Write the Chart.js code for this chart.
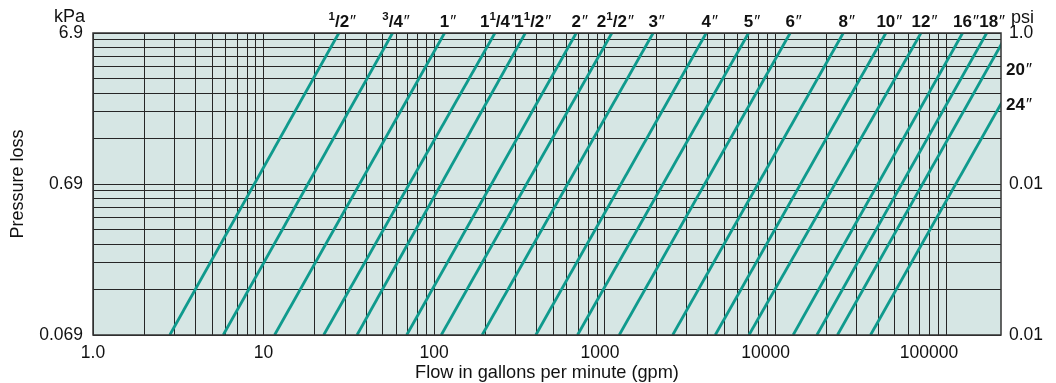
<!DOCTYPE html>
<html><head><meta charset="utf-8">
<script src="https://cdn.jsdelivr.net/npm/chart.js@4.4.1/dist/chart.umd.min.js"></script>
<style>html,body{margin:0;padding:0;background:#fff}canvas{display:block}</style>
</head><body>
<canvas id="c" width="1056" height="383"></canvas>
<script>
// ---- data ----
const pipeSizes = ['1/2','3/4','1','1 1/4','1 1/2','2','2 1/2','3','4','5','6','8','10','12','16','18','20','24'];
// flow (gpm) where each pipe line meets 1.0 psi (top) and 0.01 psi (bottom)
const flowAt1psi   = [27.6, 57, 115, 227, 342, 680, 1100, 1920, 3930, 6960, 12200, 25000, 44400, 71300, 125000, 173000, 230000, 360000];
const flowAt001psi = [2.82, 5.8, 11.6, 22.5, 35.3, 69, 110, 191, 394, 692, 1215, 2500, 4440, 7000, 12700, 17500, 23100, 36100];
const xTickValues = [1, 10, 100, 1000, 10000, 100000];
const xTickLabels = ['1.0', '10', '100', '1000', '10000', '100000'];
const yTickValues = [1, 0.1, 0.01];           // psi
const kPaTickLabels = ['6.9', '0.69', '0.069'];
const psiTickLabels = ['1.0', '0.01', '0.01'];

// ---- style ----
const FONT = '"Liberation Sans", Arial, Helvetica, sans-serif';
const TEAL = '#0f9a8d';
const BG = '#d6e6e4';
const GRID = '#262626';
const TXT = '#111';

const X_MIN = 1, X_MAX = 210000, Y_MIN = 0.01, Y_MAX = 1;

const gridX = [];
for (let k = 0; k < 5; k++) for (let m = 1; m <= 9; m++) gridX.push(m * Math.pow(10, k));
gridX.push(100000);
const gridY = [];
for (let m = 1; m <= 9; m++) gridY.push(m / 100);
for (let m = 1; m <= 9; m++) gridY.push(m / 10);
gridY.push(1);

function findIdx(arr, v) { return arr.findIndex(a => Math.abs(a - v) / a < 1e-6); }
// small leftward shifts of the large x labels, as in the original
const xLabelPad = ['', '', '', '  ', '    ', '       '];

const datasets = pipeSizes.map((s, i) => ({
  label: s,
  data: [{x: flowAt001psi[i], y: 0.01}, {x: flowAt1psi[i], y: 1}],
  showLine: true,
  borderColor: TEAL,
  backgroundColor: TEAL,
  borderWidth: 2.8,
  pointRadius: 0,
  fill: false,
  clip: 0
}));

function parts(name) {
  const p = [];
  name.split(' ').forEach(tok => {
    if (tok.includes('/')) { const [n, d] = tok.split('/'); p.push({t: n, sup: true}); p.push({t: '/' + d}); }
    else p.push({t: tok});
  });
  p.push({t: '″', mark: true});
  return p;
}
function fontFor(pt) {
  if (pt.sup) return 'bold 11.5px ' + FONT;
  if (pt.mark) return '17px ' + FONT;
  return 'bold 17px ' + FONT;
}
function drawSize(ctx, name, x, baseline, align) {
  const p = parts(name);
  let w = 0;
  p.forEach(pt => { ctx.font = fontFor(pt); pt.w = ctx.measureText(pt.t).width; w += pt.w + (pt.mark ? 1 : 0); });
  let cx = align === 'left' ? x : x - w / 2;
  p.forEach(pt => {
    ctx.font = fontFor(pt);
    let dy = 0;
    if (pt.sup) dy = -7;
    if (pt.mark) { cx += 1; dy = 0; }
    ctx.fillText(pt.t, cx, baseline + dy);
    cx += pt.w;
  });
}

const labelNudge = {'1 1/2': 4, '18': 2};
const rightLabelPsi = {'20': 0.577, '24': 0.339};

const deco = {
  id: 'deco',
  beforeDraw(chart) {
    const {ctx, chartArea: a} = chart;
    ctx.save();
    ctx.fillStyle = BG;
    ctx.fillRect(a.left, a.top, a.right - a.left, a.bottom - a.top);
    ctx.restore();
  },
  afterDraw(chart) {
    const {ctx, chartArea: a} = chart;
    const xs = chart.scales.x, ys = chart.scales.y;
    ctx.save();
    ctx.strokeStyle = '#333';
    ctx.lineWidth = 1.5;
    ctx.strokeRect(a.left, a.top, a.right - a.left, a.bottom - a.top);
    ctx.fillStyle = TXT;
    ctx.textBaseline = 'alphabetic';
    ctx.textAlign = 'left';
    pipeSizes.forEach((s, i) => {
      const px = xs.getPixelForValue(flowAt1psi[i]);
      if (px <= a.right) {
        drawSize(ctx, s, px + 3.5 + (labelNudge[s] || 0), a.top - 6, 'center');
      } else if (rightLabelPsi[s]) {
        drawSize(ctx, s, a.right + 5, ys.getPixelForValue(rightLabelPsi[s]) + 6, 'left');
      }
    });
    ctx.font = '18px ' + FONT;
    ctx.fillStyle = TXT;
    ctx.textAlign = 'right';
    ctx.fillText('kPa', a.left - 8, a.top - 11);
    ctx.textAlign = 'left';
    ctx.fillText('psi', a.right + 10, a.top - 10);
    ctx.restore();
  }
};

new Chart(document.getElementById('c'), {
  type: 'scatter',
  data: {datasets},
  plugins: [deco],
  options: {
    responsive: false,
    animation: false,
    events: [],
    layout: {padding: {top: 33, left: 0, right: 0, bottom: 0}},
    plugins: {legend: {display: false}, tooltip: {enabled: false}},
    scales: {
      x: {
        type: 'logarithmic', min: X_MIN, max: X_MAX,
        afterBuildTicks: s => { s.ticks = gridX.map(v => ({value: v})); },
        afterFit: s => { s.height = 48; },
        ticks: {
          autoSkip: false, maxRotation: 0, minRotation: 0, padding: 8, color: TXT,
          font: {family: FONT, size: 17.5},
          callback: v => { const i = findIdx(xTickValues, v); return i < 0 ? '' : xTickLabels[i] + xLabelPad[i]; }
        },
        grid: {color: GRID, lineWidth: 1, drawTicks: false},
        border: {display: false},
        title: {display: true, text: 'Flow in gallons per minute (gpm)', color: TXT,
                font: {family: FONT, size: 18.2, lineHeight: 1.1}, padding: {top: 0, bottom: 0}}
      },
      y: {
        type: 'logarithmic', position: 'left', min: Y_MIN, max: Y_MAX,
        afterBuildTicks: s => { s.ticks = gridY.map(v => ({value: v})); },
        afterFit: s => { s.width = 93; },
        ticks: {
          autoSkip: false, padding: 10, color: TXT, font: {family: FONT, size: 17.5},
          callback: v => { const i = findIdx(yTickValues, v); return i < 0 ? '' : kPaTickLabels[i]; }
        },
        grid: {color: GRID, lineWidth: 1, drawTicks: false},
        border: {display: false},
        title: {display: true, text: 'Pressure loss', color: TXT,
                font: {family: FONT, size: 18}, padding: {top: 7, bottom: 0}}
      },
      y2: {
        type: 'logarithmic', position: 'right', min: Y_MIN, max: Y_MAX,
        afterBuildTicks: s => { s.ticks = yTickValues.map(v => ({value: v})); },
        afterFit: s => { s.width = 55; },
        ticks: {
          autoSkip: false, padding: 8, color: TXT, font: {family: FONT, size: 17.5},
          callback: v => { const i = findIdx(yTickValues, v); return i < 0 ? '' : psiTickLabels[i]; }
        },
        grid: {drawOnChartArea: false, drawTicks: false},
        border: {display: false}
      }
    }
  }
});
</script>
</body></html>
